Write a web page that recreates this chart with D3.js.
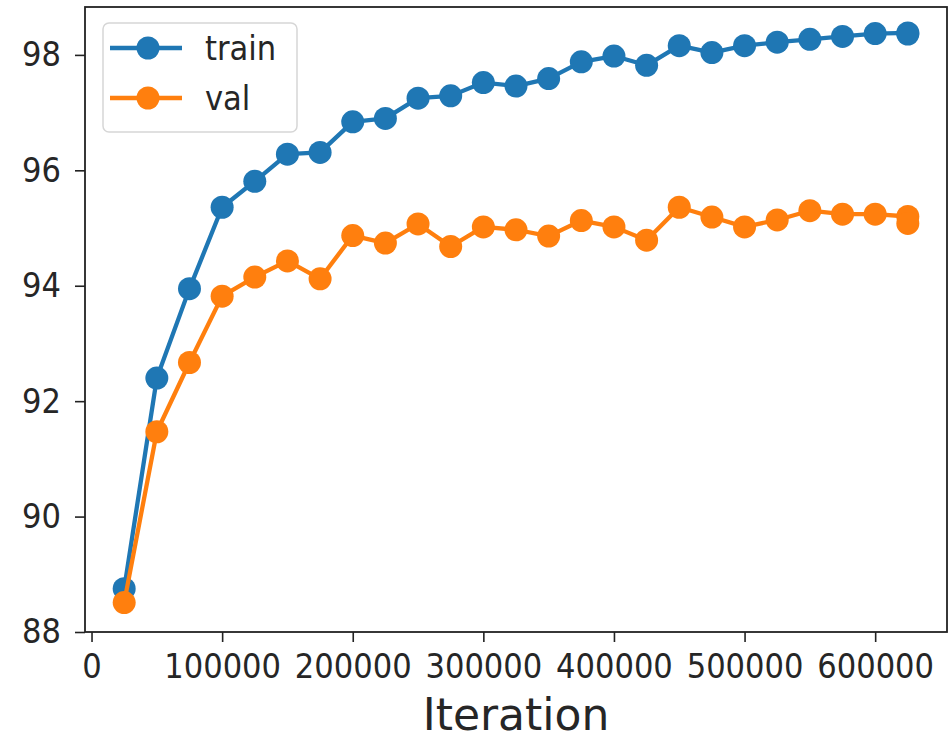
<!DOCTYPE html>
<html lang="en">
  <head>
    <meta charset="utf-8">
    <title>Train / val accuracy</title>
    <script src="https://cdnjs.cloudflare.com/ajax/libs/d3/7.8.5/d3.min.js"></script>
    <style type="text/css">
      body { margin: 0; background: #fff; }
      text { font-family: "DejaVu Sans Condensed", "DejaVu Sans", sans-serif; fill: #262626; }
      text.xlabel { font-family: "DejaVu Sans", sans-serif; }
    </style>
  </head>
  <body>
    <script type="text/javascript">

    // data
    var iterations = [25000, 50000, 75000, 100000, 125000, 150000, 175000, 200000,
                      225000, 250000, 275000, 300000, 325000, 350000, 375000, 400000,
                      425000, 450000, 475000, 500000, 525000, 550000, 575000, 600000,
                      625000, 625000];
    var train = [88.75, 92.40, 93.95, 95.36, 95.81, 96.28, 96.31, 96.84, 96.90, 97.25,
                 97.29, 97.52, 97.46, 97.59, 97.88, 97.98, 97.82, 98.16, 98.04, 98.16,
                 98.22, 98.27, 98.32, 98.37, 98.38, 98.36];
    var val = [88.51, 91.47, 92.67, 93.82, 94.15, 94.43, 94.12, 94.87, 94.74, 95.07,
               94.68, 95.02, 94.97, 94.86, 95.13, 95.02, 94.79, 95.36, 95.19, 95.02,
               95.14, 95.30, 95.24, 95.24, 95.20, 95.08];
    var xTicks = [0, 100000, 200000, 300000, 400000, 500000, 600000];
    var yTicks = [88, 90, 92, 94, 96, 98];
    var seriesNames = ["train", "val"];
    var seriesColors = ["#1f77b4", "#ff7f0e"];

    //Width and height
    var w = 950;
    var h = 741;
    var margin = {top: 7, right: 3, bottom: 109, left: 85};
    var pw = w - margin.left - margin.right;
    var ph = h - margin.top - margin.bottom;

    var x = d3.scaleLinear().domain([-5000, 655000]).range([0, pw]);
    var y = d3.scaleLinear().domain([88, 98.83]).range([ph, 0]);

    var svg = d3.select("body")
                .append("svg")
                .attr("width", w)
                .attr("height", h);

    var g = svg.append("g")
               .attr("transform", "translate(" + margin.left + "," + margin.top + ")");

    // axes
    var xAxis = g.append("g")
                 .attr("transform", "translate(0," + ph + ")")
                 .call(d3.axisBottom(x).tickValues(xTicks).tickSize(10).tickPadding(12)
                         .tickFormat(d3.format("d")));
    var yAxis = g.append("g")
                 .call(d3.axisLeft(y).tickValues(yTicks).tickSize(10).tickPadding(14)
                         .tickFormat(d3.format("d")));

    [xAxis, yAxis].forEach(function(a) {
      a.select(".domain").remove();
      a.selectAll(".tick line").attr("stroke", "#222").attr("stroke-width", 1.6);
      a.selectAll(".tick text")
       .attr("font-size", "34px")
       .attr("fill", "#262626");
    });

    // lines + markers
    var series = [train, val];
    series.forEach(function(vals, s) {
      var pts = vals.map(function(v, i) { return [iterations[i], v]; });
      var line = d3.line()
                   .x(function(d) { return x(d[0]); })
                   .y(function(d) { return y(d[1]); });
      g.append("path")
       .datum(pts)
       .attr("d", line)
       .attr("fill", "none")
       .attr("stroke", seriesColors[s])
       .attr("stroke-width", 4.3)
       .attr("stroke-linejoin", "round");
      g.selectAll(".dot" + s)
       .data(pts)
       .enter()
       .append("circle")
       .attr("class", "dot" + s)
       .attr("cx", function(d) { return x(d[0]); })
       .attr("cy", function(d) { return y(d[1]); })
       .attr("r", 11.5)
       .attr("fill", seriesColors[s]);
    });

    // frame
    g.append("rect")
     .attr("width", pw)
     .attr("height", ph)
     .attr("fill", "none")
     .attr("stroke", "#222")
     .attr("stroke-width", 1.8);

    // x label
    g.append("text")
     .attr("class", "xlabel")
     .attr("x", pw / 2)
     .attr("y", ph + 98)
     .attr("text-anchor", "middle")
     .attr("font-size", "44px")
     .text("Iteration");

    // legend
    var leg = svg.append("g").attr("transform", "translate(103,23)");
    leg.append("rect")
       .attr("width", 194)
       .attr("height", 109)
       .attr("rx", 6)
       .attr("fill", "#fff")
       .attr("fill-opacity", 0.8)
       .attr("stroke", "#d6d6d6")
       .attr("stroke-width", 1.5);

    seriesNames.forEach(function(name, i) {
      var ly = 25 + i * 50;
      leg.append("line")
         .attr("x1", 7).attr("x2", 79)
         .attr("y1", ly).attr("y2", ly)
         .attr("stroke", seriesColors[i])
         .attr("stroke-width", 4.3);
      leg.append("circle")
         .attr("cx", 45).attr("cy", ly)
         .attr("r", 11.5)
         .attr("fill", seriesColors[i]);
      leg.append("text")
         .attr("x", 102)
         .attr("y", ly + 12)
         .attr("font-size", "34px")
         .text(name);
    });

    </script>
  </body>
</html>
